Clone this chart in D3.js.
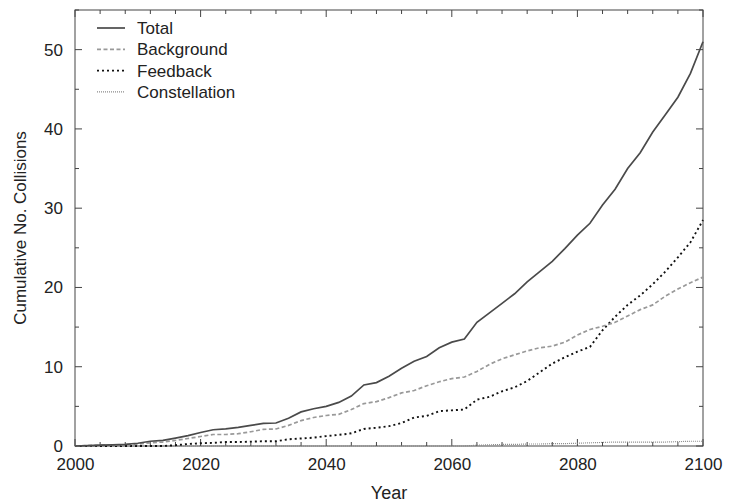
<!DOCTYPE html>
<html><head><meta charset="utf-8">
<script src="https://cdn.jsdelivr.net/npm/d3@7"></script>
<style>body{margin:0;background:#fff}svg{display:block}text{font-family:"Liberation Sans",Arial,sans-serif;fill:#222}</style>
</head><body><svg id="c" width="729" height="503"></svg>
<script>
const years = d3.range(2000, 2101, 2);
const total = [0,0.05,0.1,0.15,0.2,0.35,0.6,0.7,1.0,1.3,1.7,2.05,2.15,2.35,2.6,2.85,2.9,3.5,4.3,4.7,5.0,5.5,6.3,7.7,8.0,8.8,9.8,10.7,11.3,12.4,13.1,13.5,15.6,16.8,18.0,19.2,20.7,22.0,23.3,24.9,26.6,28.1,30.4,32.4,35.0,37.0,39.6,41.8,44.0,47.0,51.0];
const background = [0,0.05,0.1,0.1,0.15,0.25,0.4,0.5,0.7,0.95,1.2,1.45,1.45,1.55,1.8,2.1,2.15,2.6,3.2,3.6,3.85,4.0,4.6,5.35,5.6,6.1,6.7,7.0,7.6,8.1,8.5,8.7,9.4,10.3,11.0,11.5,12.0,12.4,12.6,13.1,14.0,14.7,15.1,15.6,16.4,17.2,17.8,18.9,19.8,20.6,21.3];
const feedback = [0,0,0,0,0,0,0,0,0.1,0.25,0.35,0.4,0.5,0.5,0.55,0.6,0.6,0.85,0.95,1.05,1.25,1.4,1.6,2.15,2.3,2.5,2.9,3.6,3.8,4.4,4.5,4.6,5.85,6.2,6.9,7.4,8.2,9.3,10.4,11.2,11.9,12.5,14.6,16.3,17.8,19.0,20.4,22.0,23.8,25.7,28.5];
const constellation = [0,0,0,0,0,0,0,0,0,0,0,0,0,0,0,0,0,0,0,0,0,0,0,0,0,0,0,0,0,0,0,0,0.1,0.15,0.2,0.2,0.25,0.25,0.3,0.3,0.35,0.4,0.45,0.5,0.5,0.5,0.5,0.5,0.55,0.6,0.6];
const seriesNames = ["Total","Background","Feedback","Constellation"];
const xTicks = [2000,2020,2040,2060,2080,2100];
const yTicks = [0,10,20,30,40,50];

const styles = {
  Total:{stroke:"#4a4a4a",width:1.7,dash:null},
  Background:{stroke:"#999",width:1.7,dash:"4,2.5"},
  Feedback:{stroke:"#111",width:1.9,dash:"2,3"},
  Constellation:{stroke:"#8a8a8a",width:1.2,dash:"1,1"}
};
const seriesData = {Total:total,Background:background,Feedback:feedback,Constellation:constellation};

const svg = d3.select("#c");
const L=75,R=703,T=10,B=446;
const x = d3.scaleLinear().domain([2000,2100]).range([L,R]);
const y = d3.scaleLinear().domain([0,55]).range([B,T]);

svg.append("rect").attr("x",L).attr("y",T).attr("width",R-L).attr("height",B-T)
  .attr("fill","none").attr("stroke","#444").attr("stroke-width",1);

const minorX = d3.range(2000,2101,4);
const minorY = d3.range(0,56,5);
const tk = svg.append("g").attr("stroke","#444").attr("stroke-width",1);
minorX.forEach(v=>{
  const len = (v%20===0)?7:4;
  tk.append("line").attr("x1",x(v)).attr("x2",x(v)).attr("y1",B).attr("y2",B-len);
  tk.append("line").attr("x1",x(v)).attr("x2",x(v)).attr("y1",T).attr("y2",T+len);
});
minorY.forEach(v=>{
  const len = (v%10===0)?7:4;
  tk.append("line").attr("x1",L).attr("x2",L+len).attr("y1",y(v)).attr("y2",y(v));
  tk.append("line").attr("x1",R).attr("x2",R-len).attr("y1",y(v)).attr("y2",y(v));
});

const ax = svg.append("g").attr("transform",`translate(0,${B})`)
  .call(d3.axisBottom(x).tickValues(xTicks).tickFormat(d3.format("d")).tickSize(0).tickPadding(12));
ax.select(".domain").remove();
ax.selectAll("text").attr("font-size",17).attr("fill","#222").attr("font-family","Liberation Sans, Arial, sans-serif");
const ay = svg.append("g").attr("transform",`translate(${L},0)`)
  .call(d3.axisLeft(y).tickValues(yTicks).tickSize(0).tickPadding(12));
ay.select(".domain").remove();
ay.selectAll("text").attr("font-size",17).attr("fill","#222").attr("font-family","Liberation Sans, Arial, sans-serif");

svg.append("text").attr("x",(L+R)/2).attr("y",499).attr("text-anchor","middle").attr("font-size",18).text("Year");
svg.append("text").attr("transform",`translate(26,${(T+B)/2}) rotate(-90)`).attr("text-anchor","middle").attr("font-size",17).text("Cumulative No. Collisions");

const line = d3.line().x((d,i)=>x(years[i])).y(d=>y(d));
seriesNames.slice().reverse().forEach(n=>{
  const s=styles[n];
  svg.append("path").datum(seriesData[n]).attr("d",line).attr("fill","none")
    .attr("stroke",s.stroke).attr("stroke-width",s.width).attr("stroke-dasharray",s.dash);
});

const lg = svg.append("g");
seriesNames.forEach((n,i)=>{
  const s=styles[n]; const yy = 28 + i*21.3;
  lg.append("line").attr("x1",97).attr("x2",125).attr("y1",yy).attr("y2",yy)
    .attr("stroke",s.stroke).attr("stroke-width",s.width).attr("stroke-dasharray",s.dash);
  lg.append("text").attr("x",137).attr("y",yy+6).attr("font-size",17).text(n);
});
</script></body></html>
